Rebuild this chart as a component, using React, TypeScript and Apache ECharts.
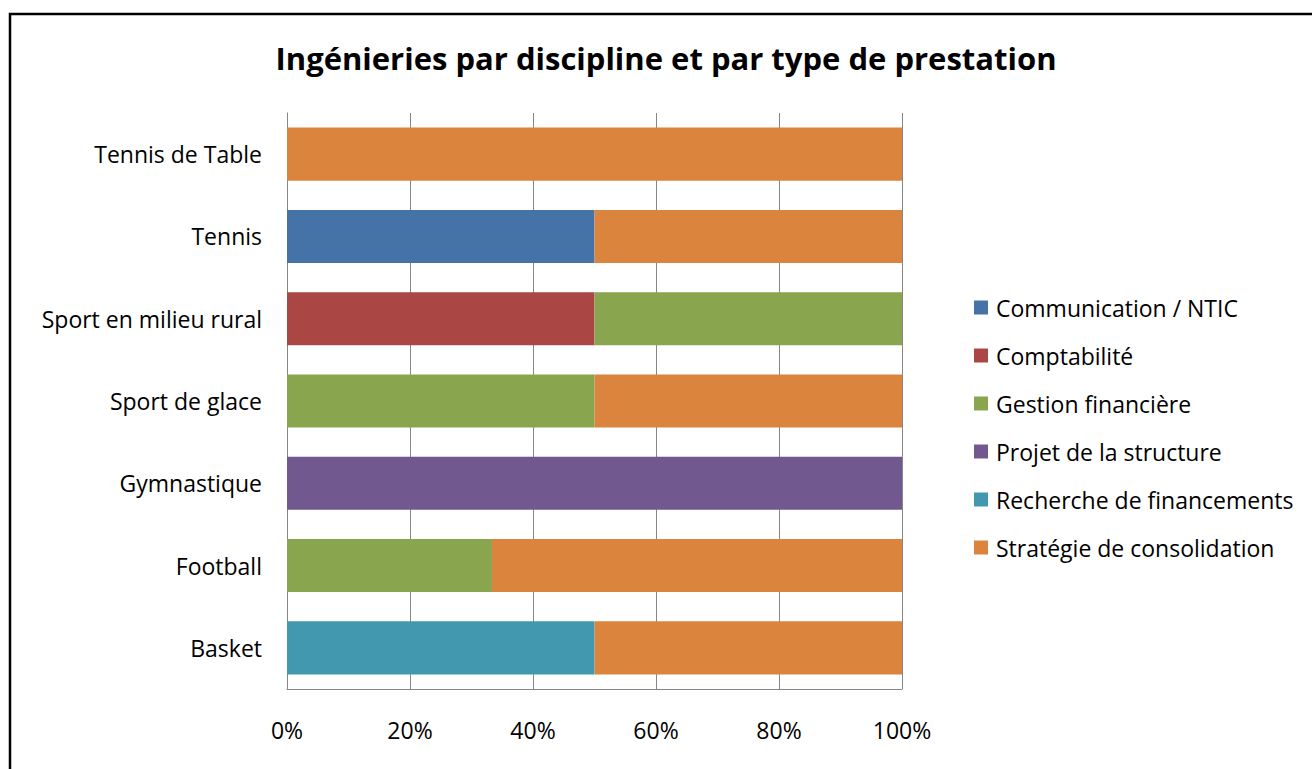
import React, { useEffect, useRef } from "react";
import * as echarts from "echarts";

const categories = ["Basket", "Football", "Gymnastique", "Sport de glace", "Sport en milieu rural", "Tennis", "Tennis de Table"];
const seriesNames = ["Communication / NTIC", "Comptabilité", "Gestion financière", "Projet de la structure", "Recherche de financements", "Stratégie de consolidation"];
const communication = [0, 0, 0, 0, 0, 50, 0];
const comptabilite = [0, 0, 0, 0, 50, 0, 0];
const gestion = [0, 33.33, 0, 50, 50, 0, 0];
const projet = [0, 0, 100, 0, 0, 0, 0];
const recherche = [50, 0, 0, 0, 0, 0, 0];
const strategie = [50, 66.67, 0, 50, 0, 50, 100];
const xTicks = [0, 20, 40, 60, 80, 100];
const colors = ["#4572A7", "#AA4643", "#89A54E", "#71588F", "#4198AF", "#DB843D"];

const FONT = "'Open Sans', sans-serif";

export default function App() {
  const ref = useRef<HTMLDivElement>(null);
  useEffect(() => {
    if (!ref.current) return;
    const chart = echarts.init(ref.current, undefined, { renderer: "svg" });
    const values = [communication, comptabilite, gestion, projet, recherche, strategie];
    chart.setOption({
      animation: false,
      backgroundColor: "#ffffff",
      color: colors,
      title: {
        text: "Ingénieries par discipline et par type de prestation",
        left: 661,
        textAlign: "center",
        top: 37,
        textStyle: { fontFamily: FONT, fontSize: 31, fontWeight: "bold", color: "#000" },
      },
      graphic: [
        {
          type: "rect",
          shape: { x: 10, y: 14, width: 1330, height: 790 },
          style: { fill: "none", stroke: "#000", lineWidth: 2.5 },
          silent: true,
        },
      ],
      legend: {
        orient: "vertical",
        left: 969,
        top: 291,
        itemWidth: 14,
        itemHeight: 14,
        itemGap: 25,
        icon: "rect",
        data: seriesNames,
        textStyle: { fontFamily: FONT, fontSize: 23, color: "#000", padding: [0, 0, 0, 3] },
      },
      grid: { left: 287, right: 410, top: 113, bottom: 80, containLabel: false },
      xAxis: {
        type: "value",
        min: xTicks[0],
        max: xTicks[xTicks.length - 1],
        interval: 20,
        axisLine: { show: true, lineStyle: { color: "#868686", width: 1 } },
        axisTick: { show: false },
        splitLine: { show: true, lineStyle: { color: "#868686", width: 1 } },
        axisLabel: {
          margin: 29,
          fontFamily: FONT,
          fontSize: 23,
          color: "#000",
          formatter: (v: number) => `${v}%`,
        },
      },
      yAxis: {
        type: "category",
        data: categories,
        axisLine: { show: true, lineStyle: { color: "#868686", width: 1 } },
        axisTick: { show: false },
        axisLabel: { margin: 25, fontFamily: FONT, fontSize: 23, color: "#000" },
      },
      series: seriesNames.map((name, i) => ({
        name,
        type: "bar",
        stack: "total",
        barWidth: "64.5%",
        data: values[i],
        itemStyle: { color: colors[i] },
      })),
    });
    return () => chart.dispose();
  }, []);
  return <div ref={ref} style={{ position: "absolute", left: 0, top: 0, width: 1312, height: 769 }} />;
}
